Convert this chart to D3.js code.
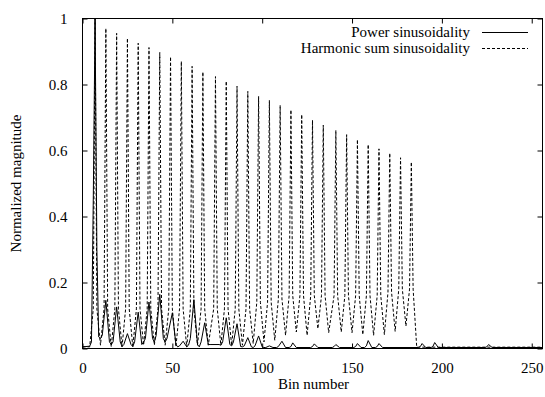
<!DOCTYPE html>
<html><head><meta charset="utf-8">
<script src="https://cdn.jsdelivr.net/npm/d3@7"></script>
<style>html,body{margin:0;padding:0;background:#fff;} svg text{font-family:"Liberation Serif","DejaVu Serif",serif !important;}</style>
</head><body><svg id="c" width="545" height="397"></svg>
<script>
// ---- data ----
const xTicks = [0, 50, 100, 150, 200, 250];
const yTicks = [0, 0.2, 0.4, 0.6, 0.8, 1];
const yTickLabels = ["0", "0.2", "0.4", "0.6", "0.8", "1"];
const seriesNames = ["Power sinusoidality", "Harmonic sum sinusoidality"];

// Power sinusoidality (solid): key points (bin, value)
const psBins = [0,4,5,6,7,8,9,10,11,13,15,16,17,19,21,22,23,25,27,28,29,31,33,34,35,37,39,40,41,43,45,46,47,50,52,53,54,56,58,59,60,62,64,65,66,68,70,71,76,77,78,80,82,83,84,86,88,89,90,92,94,95,96,98,100,101,102,104,106,108,109,111,113,115,116,117,119,127,128,129,131,139,140,141,143,151,152,153,155,157,158,159,161,163,164,165,167,187,188,189,191,194,195,196,198,224,225,226,228,256];
const psVals = [0.005,0.007,0.02,0.45,1.0,0.3,0.035,0.03,0.04,0.146,0.02,0.012,0.02,0.126,0.02,0.006,0.012,0.045,0.012,0.006,0.02,0.11,0.012,0.02,0.03,0.141,0.03,0.02,0.04,0.164,0.03,0.02,0.03,0.108,0.012,0.005,0.008,0.022,0.005,0.01,0.03,0.148,0.012,0.005,0.02,0.078,0.012,0.012,0.012,0.01,0.02,0.093,0.012,0.008,0.02,0.075,0.006,0.005,0.008,0.033,0.005,0.003,0.008,0.038,0.005,0.003,0.003,0.008,0.003,0.003,0.006,0.022,0.003,0.003,0.006,0.017,0.003,0.003,0.006,0.014,0.003,0.003,0.006,0.012,0.003,0.003,0.006,0.015,0.003,0.003,0.008,0.024,0.003,0.003,0.006,0.015,0.003,0.003,0.006,0.015,0.003,0.003,0.006,0.018,0.003,0.003,0.005,0.012,0.003,0.003];

// Harmonic sum sinusoidality (dashed): peaks, shoulders and troughs
const hsPeakBins = [7,13,19,25,31,37,43,49,55,61,67,74,80,86,92,98,104,110,116,122,128,134,141,147,153,159,165,171,177,183];
const hsPeakVals = [1.0,0.970,0.955,0.940,0.925,0.912,0.897,0.884,0.870,0.855,0.838,0.824,0.810,0.795,0.779,0.764,0.752,0.737,0.723,0.709,0.692,0.677,0.661,0.648,0.633,0.618,0.605,0.592,0.578,0.565];
const hsShoulderVals = [0.12,0.12,0.12,0.12,0.12,0.12,0.12,0.12,0.12,0.12,0.12,0.12,0.12,0.12,0.12,0.14,0.14,0.15,0.16,0.16,0.16,0.16,0.16,0.16,0.16,0.16,0.16,0.17,0.18,0.18];
const hsTroughBins = [0,4,10,16,22,28,34,40,46,52,58,64,70,77,83,89,95,101,107,113,119,125,131,137,144,150,156,162,168,174,180,186,256];
const hsTroughVals = [0.005,0.005,0.01,0.005,0.005,0.005,0.01,0.01,0.01,0.005,0.005,0.01,0.01,0.01,0.01,0.01,0.015,0.02,0.025,0.04,0.05,0.04,0.06,0.048,0.05,0.048,0.042,0.04,0.042,0.052,0.068,0.004,0.004];

// ---- build point lists ----
const psData = psBins.map((b, i) => [b, psVals[i]]);
let hsData = hsTroughBins.map((b, i) => [b, hsTroughVals[i]]);
hsPeakBins.forEach((b, i) => {
  hsData.push([b - 1, hsShoulderVals[i]]);
  hsData.push([b, hsPeakVals[i]]);
  hsData.push([b + 1, hsShoulderVals[i]]);
});
hsData.sort((a, b) => a[0] - b[0]);

// ---- chart ----
const FONT = "'Liberation Serif','DejaVu Serif',serif";
const svg = d3.select("#c");
svg.append("rect").attr("width", 545).attr("height", 397).attr("fill", "#fff");
const L = 82.5, R = 542.5, T = 18.5, B = 348.5;
const x = d3.scaleLinear().domain([0, 256]).range([L, R]);
const y = d3.scaleLinear().domain([0, 1]).range([B, T]);

const line = d3.line().x(d => x(d[0])).y(d => y(d[1]));
const plot = svg.append("g");
plot.append("path").datum(hsData).attr("d", line).attr("fill", "none")
  .attr("stroke", "#000").attr("stroke-width", 1).attr("stroke-dasharray", "3,2");
plot.append("path").datum(psData).attr("d", line).attr("fill", "none")
  .attr("stroke", "#000").attr("stroke-width", 1);

// axes (ticks inward on all four sides)
const fs = 15;
const xb = svg.append("g").attr("transform", `translate(0,${B})`)
  .call(d3.axisBottom(x).tickValues(xTicks).tickSize(-5).tickPadding(14).tickFormat(d3.format("d")));
const xt = svg.append("g").attr("transform", `translate(0,${T})`)
  .call(d3.axisTop(x).tickValues(xTicks).tickSize(-5).tickFormat(""));
const yl = svg.append("g").attr("transform", `translate(${L},0)`)
  .call(d3.axisLeft(y).tickValues(yTicks).tickSize(-5).tickPadding(15).tickFormat((d, i) => yTickLabels[i]));
const yr = svg.append("g").attr("transform", `translate(${R},0)`)
  .call(d3.axisRight(y).tickValues(yTicks).tickSize(-5).tickFormat(""));
[xb, xt, yl, yr].forEach(g => {
  g.attr("font-family", FONT);
  g.select(".domain").remove();
  g.selectAll("line").attr("stroke", "#000");
  g.selectAll("text").attr("font-size", fs).attr("fill", "#000").style("font-family", FONT);
});
svg.append("rect").attr("x", L).attr("y", T).attr("width", R - L).attr("height", B - T)
  .attr("fill", "none").attr("stroke", "#000").attr("stroke-width", 1);

// axis titles
svg.append("text").attr("x", (L + R) / 2 + 1).attr("y", 389).attr("text-anchor", "middle")
  .attr("font-size", fs).style("font-family", FONT).text("Bin number");
svg.append("text").attr("transform", `translate(21,${(T + B) / 2}) rotate(-90)`)
  .attr("text-anchor", "middle").attr("font-size", fs).style("font-family", FONT).text("Normalized magnitude");

// legend
const legY = [32.5, 48.5];
seriesNames.forEach((name, i) => {
  svg.append("text").attr("x", 470).attr("y", legY[i] + 4.5).attr("text-anchor", "end")
    .attr("font-size", fs).style("font-family", FONT).text(name);
  svg.append("line").attr("x1", 482).attr("x2", 528).attr("y1", legY[i]).attr("y2", legY[i])
    .attr("stroke", "#000").attr("stroke-width", 1)
    .attr("stroke-dasharray", i === 1 ? "3,2" : null);
});
</script></body></html>
